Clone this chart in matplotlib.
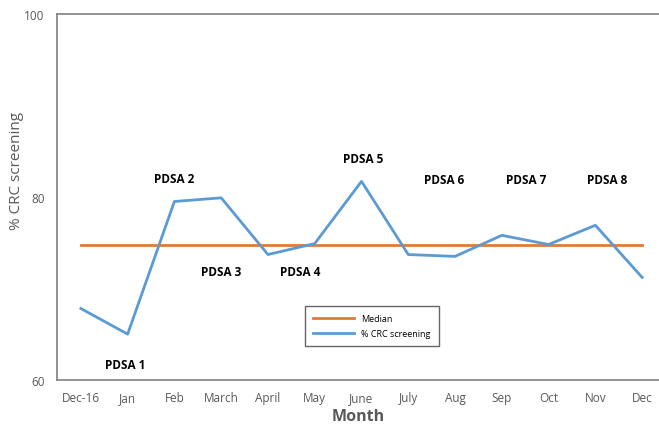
import matplotlib
matplotlib.use('Agg')
import matplotlib.pyplot as plt

plt.rcParams['font.family'] = ['Open Sans', 'DejaVu Sans']

# data
months = ['Dec-16', 'Jan', 'Feb', 'March', 'April', 'May', 'June',
          'July', 'Aug', 'Sep', 'Oct', 'Nov', 'Dec']
screening = [67.8, 65.0, 79.5, 79.9, 73.7, 74.9, 81.7,
             73.7, 73.5, 75.8, 74.8, 76.9, 71.2]
median_val = 74.7

pdsa_labels = ['PDSA 1', 'PDSA 2', 'PDSA 3', 'PDSA 4',
               'PDSA 5', 'PDSA 6', 'PDSA 7', 'PDSA 8']
pdsa_x = [0.94, 1.99, 2.99, 4.68, 6.03, 7.76, 9.51, 11.25]
pdsa_y = [61.7, 82.0, 71.9, 71.9, 84.15, 81.9, 81.9, 81.9]

ORANGE = '#E07B39'
BLUE = '#5B9BD5'
GRAY = '#595959'

fig = plt.figure(figsize=(6.59, 4.27), dpi=100)
ax = fig.add_axes([0.0865, 0.108, 0.9135, 0.857])

x = list(range(len(months)))
ax.plot(x, [median_val] * len(months), color=ORANGE, linewidth=2, label='Median')
ax.plot(x, screening, color=BLUE, linewidth=2, label='% CRC screening')

for lbl, px, py in zip(pdsa_labels, pdsa_x, pdsa_y):
    ax.text(px, py, lbl, ha='center', va='center', fontsize=8.5,
            fontweight='bold', color='black')

ax.set_xlim(-0.51, 12.36)
ax.set_ylim(60, 100)
ax.set_yticks([60, 80, 100])
ax.set_xticks(x)
ax.set_xticklabels(months)
ax.tick_params(length=0, colors=GRAY, labelsize=8.5, pad=8)
ax.tick_params(axis='y', pad=9)

ax.set_xlabel('Month', fontsize=11.5, fontweight='bold', color=GRAY, labelpad=3)
ax.set_ylabel('% CRC screening', fontsize=11, color=GRAY)
ax.yaxis.set_label_coords(-0.054, 0.575)

for s in ['left', 'bottom', 'top']:
    ax.spines[s].set_color('#808080')
    ax.spines[s].set_linewidth(1.2)
ax.spines['right'].set_visible(False)

leg = ax.legend(loc='upper left', bbox_to_anchor=(0.405, 0.215), fontsize=6.5,
                frameon=True, fancybox=False, edgecolor='#404040',
                handlelength=4.5, borderpad=0.9, labelspacing=0.7)
leg.get_frame().set_linewidth(1)

fig.savefig('out.png', dpi=100)
